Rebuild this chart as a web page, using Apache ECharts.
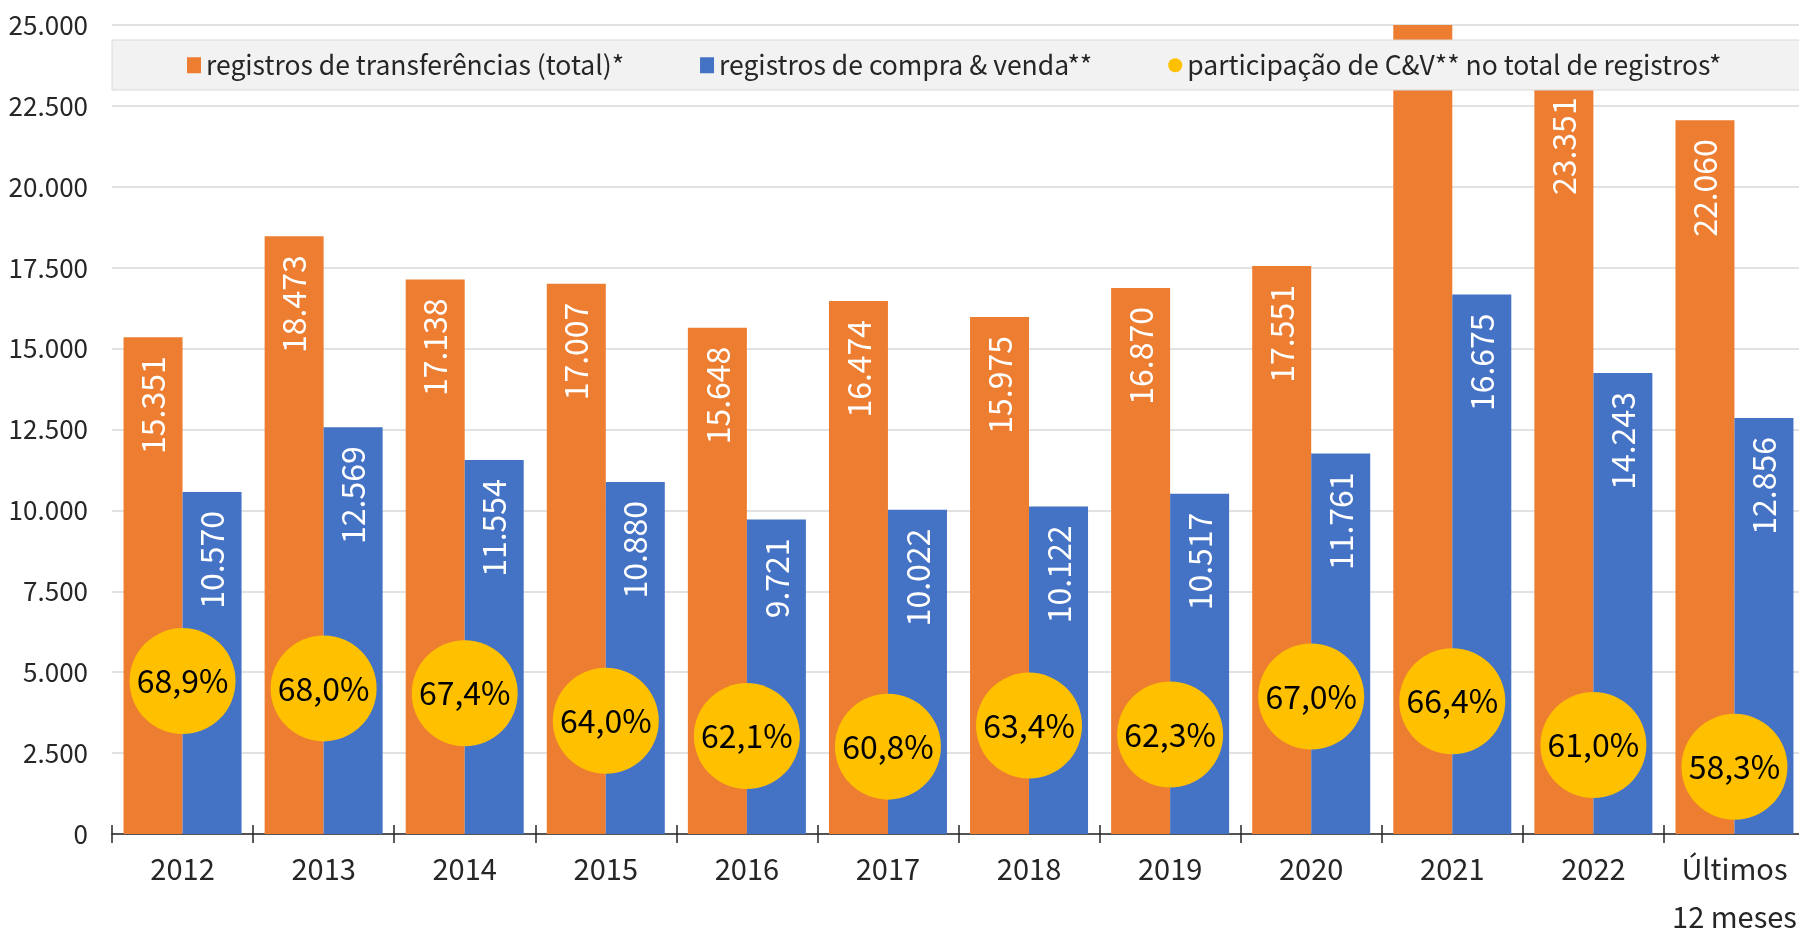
<!DOCTYPE html>
<html>
<head>
<meta charset="utf-8">
<script src="https://cdn.jsdelivr.net/npm/echarts@6/dist/echarts.min.js"></script>
<style>
  html, body { margin: 0; padding: 0; background: #ffffff; }
  #chart { width: 1799px; height: 929px; }
</style>
</head>
<body>
<div id="chart"></div>
<script>
// Categories and series values
const categories = ['2012', '2013', '2014', '2015', '2016', '2017', '2018', '2019', '2020', '2021', '2022', 'Últimos\n12 meses'];
const totalRegistros = [15351, 18473, 17138, 17007, 15648, 16474, 15975, 16870, 17551, 25113, 23351, 22060];
const compraVenda = [10570, 12569, 11554, 10880, 9721, 10022, 10122, 10517, 11761, 16675, 14243, 12856];
const participacao = [68.9, 68.0, 67.4, 64.0, 62.1, 60.8, 63.4, 62.3, 67.0, 66.4, 61.0, 58.3];
const yTicks = [0, 2500, 5000, 7500, 10000, 12500, 15000, 17500, 20000, 22500, 25000];

const seriesNames = [
  'registros de transferências (total)*',
  'registros de compra & venda**',
  'participação de C&V** no total de registros*'
];

const FONT = '"Noto Sans CJK JP", "Noto Sans", sans-serif';
const TEXT = '#262626';
const Y_MAX = yTicks[yTicks.length - 1];

function fmtThousands(v) {
  return String(v).replace(/\B(?=(\d{3})+(?!\d))/g, '.');
}

const barLabel = {
  show: true,
  position: 'insideTop',
  rotate: 90,
  align: 'right',
  verticalAlign: 'middle',
  distance: 19,
  color: '#ffffff',
  fontFamily: FONT,
  fontSize: 32,
  formatter: p => fmtThousands(p.value)
};

// A bar running past the axis maximum is cut at the top and carries no label
const totalData = totalRegistros.map(v => v > Y_MAX ? { value: v, label: { show: false } } : v);

const chart = echarts.init(document.getElementById('chart'), null, { renderer: 'canvas' });

chart.setOption({
  animation: false,
  backgroundColor: '#ffffff',
  textStyle: { fontFamily: FONT },
  grid: { left: 112, right: -6, top: 25, bottom: 95, containLabel: false, outerBoundsMode: 'none' },
  graphic: [{
    type: 'rect',
    z: 3,
    shape: { x: 112, y: 40, width: 1700, height: 50 },
    style: { fill: '#f2f2f2', stroke: '#d9d9d9', lineWidth: 1 }
  }],
  legend: {
    z: 5,
    left: 182,
    top: 47,
    itemGap: 76,
    itemWidth: 14,
    itemHeight: 16,
    textStyle: { color: TEXT, fontFamily: FONT, fontSize: 26.5 },
    data: [
      { name: seriesNames[0], icon: 'rect' },
      { name: seriesNames[1], icon: 'rect' },
      { name: seriesNames[2], icon: 'circle' }
    ]
  },
  xAxis: [{
    type: 'category',
    data: categories,
    boundaryGap: true,
    axisLine: { show: true, lineStyle: { color: '#262626', width: 1.5 } },
    axisTick: { show: true, length: 9, lineStyle: { color: '#262626', width: 1.5 } },
    axisLabel: { color: TEXT, fontFamily: FONT, fontSize: 29, lineHeight: 48, margin: 11, interval: 0 },
    splitLine: { show: false }
  }, {
    // second axis only to draw ticks crossing the baseline
    type: 'category',
    data: categories,
    position: 'bottom',
    boundaryGap: true,
    axisLine: { show: false },
    axisTick: { show: true, inside: true, length: 9, lineStyle: { color: '#262626', width: 1.5 } },
    axisLabel: { show: false },
    splitLine: { show: false }
  }],
  yAxis: [{
    type: 'value',
    min: 0,
    max: Y_MAX,
    interval: 2500,
    axisLine: { show: false },
    axisTick: { show: false },
    axisLabel: { color: TEXT, fontFamily: FONT, fontSize: 26, margin: 24, formatter: v => fmtThousands(v) },
    splitLine: { show: true, lineStyle: { color: '#d9d9d9', width: 1.5 } }
  }, {
    type: 'value',
    min: 50,
    max: 150,
    show: false,
    splitLine: { show: false }
  }],
  series: [{
    name: seriesNames[0],
    type: 'bar',
    xAxisIndex: 0,
    yAxisIndex: 0,
    barWidth: 59,
    barGap: '0%',
    itemStyle: { color: '#ED7D31' },
    label: barLabel,
    data: totalData,
    z: 2
  }, {
    name: seriesNames[1],
    type: 'bar',
    xAxisIndex: 0,
    yAxisIndex: 0,
    barWidth: 59,
    barGap: '0%',
    itemStyle: { color: '#4472C4' },
    label: barLabel,
    data: compraVenda,
    z: 2
  }, {
    name: seriesNames[2],
    type: 'scatter',
    xAxisIndex: 0,
    yAxisIndex: 1,
    symbol: 'circle',
    symbolSize: 106,
    itemStyle: { color: '#FFC000', opacity: 1 },
    label: {
      show: true,
      position: 'inside',
      color: '#000000',
      fontFamily: FONT,
      fontSize: 32,
      formatter: p => p.value.toFixed(1).replace('.', ',') + '%'
    },
    data: participacao,
    z: 6
  }]
});
</script>
</body>
</html>
